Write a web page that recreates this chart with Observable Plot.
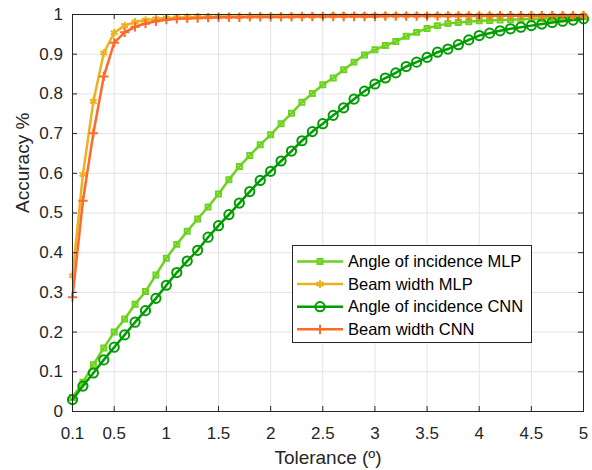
<!DOCTYPE html>
<html><head><meta charset="utf-8">
<script src="https://cdn.jsdelivr.net/npm/d3@7"></script>
<script src="https://cdn.jsdelivr.net/npm/@observablehq/plot@0.6"></script>
<style>body{margin:0;background:#fff}</style>
</head><body><div id="chart"></div>
<script>
const tolerance = [0.1,0.2,0.3,0.4,0.5,0.6,0.7,0.8,0.9,1.0,
  1.1,1.2,1.3,1.4,1.5,1.6,1.7,1.8,1.9,2.0,
  2.1,2.2,2.3,2.4,2.5,2.6,2.7,2.8,2.9,3.0,
  3.1,3.2,3.3,3.4,3.5,3.6,3.7,3.8,3.9,4.0,
  4.1,4.2,4.3,4.4,4.5,4.6,4.7,4.8,4.9,5.0];
const angleMLP = [0.035,0.074,0.118,0.160,0.200,0.233,0.270,0.302,0.344,0.386,
  0.421,0.454,0.485,0.515,0.548,0.584,0.617,0.645,0.672,0.697,
  0.725,0.751,0.779,0.801,0.823,0.840,0.861,0.880,0.898,0.911,
  0.922,0.932,0.945,0.955,0.965,0.972,0.977,0.980,0.982,0.984,
  0.985,0.986,0.987,0.988,0.989,0.990,0.991,0.992,0.993,0.994];
const beamMLP = [0.342,0.597,0.781,0.903,0.954,0.972,0.981,0.986,0.989,0.991,
  0.992,0.993,0.994,0.994,0.995,0.995,0.995,0.995,0.996,0.996,
  0.996,0.996,0.996,0.996,0.996,0.997,0.997,0.997,0.997,0.997,
  0.997,0.997,0.997,0.997,0.997,0.997,0.998,0.998,0.998,0.998,
  0.998,0.998,0.998,0.998,0.998,0.998,0.998,0.998,0.998,0.998];
const angleCNN = [0.030,0.064,0.097,0.130,0.162,0.193,0.225,0.254,0.285,0.318,
  0.350,0.379,0.406,0.439,0.468,0.496,0.525,0.554,0.582,0.605,
  0.631,0.656,0.682,0.705,0.725,0.746,0.765,0.787,0.807,0.825,
  0.840,0.853,0.869,0.880,0.892,0.905,0.913,0.924,0.936,0.947,
  0.953,0.959,0.964,0.968,0.972,0.976,0.980,0.983,0.986,0.989];
const beamCNN = [0.288,0.531,0.701,0.844,0.929,0.955,0.969,0.977,0.983,0.987,
  0.989,0.990,0.991,0.992,0.993,0.993,0.993,0.994,0.994,0.994,
  0.994,0.994,0.995,0.995,0.995,0.995,0.995,0.995,0.995,0.995,
  0.996,0.996,0.996,0.996,0.996,0.996,0.996,0.996,0.996,0.996,
  0.996,0.997,0.997,0.997,0.997,0.997,0.997,0.997,0.997,0.997];

const seriesNames = ["Angle of incidence MLP","Beam width MLP","Angle of incidence CNN","Beam width CNN"];
const seriesValues = [angleMLP, beamMLP, angleCNN, beamCNN];
const seriesColors = ["#6cd21e","#edb120","#009c00","#ff6929"];
const seriesSymbols = ["square","asterisk","circle","plus"];
const seriesR = [2.8, 3.7, 4.6, 3.1];
const xTicks = [0.1,0.5,1,1.5,2,2.5,3,3.5,4,4.5,5];
const yTicks = [0,0.1,0.2,0.3,0.4,0.5,0.6,0.7,0.8,0.9,1];
const xLabel = "Tolerance (º)";
const yLabel = "Accuracy %";

const W = 592, H = 470, mL = 72, mR = 9, mT = 14, mB = 59;
const frameW = W - mL - mR, frameH = H - mT - mB;
const axisColor = "#262626";
const tickLen = 5;
const font = "'Liberation Sans', Arial, Helvetica, sans-serif";

const seriesMarks = seriesNames.flatMap((name, k) => {
  const rows = tolerance.map((t, i) => ({series: name, tolerance: t, accuracy: seriesValues[k][i]}));
  return [
    Plot.line(rows, {x: "tolerance", y: "accuracy", stroke: seriesColors[k], strokeWidth: 2.5}),
    Plot.dot(rows, {x: "tolerance", y: "accuracy", symbol: () => seriesSymbols[k], r: seriesR[k],
      stroke: seriesColors[k], strokeWidth: 2, fill: "none"})
  ];
});

const plot = Plot.plot({
  width: W, height: H,
  marginLeft: mL, marginRight: mR, marginTop: mT, marginBottom: mB,
  style: {fontFamily: font, fontSize: "17px", color: axisColor, background: "white"},
  x: {domain: [0.1, 5]},
  y: {domain: [0, 1]},
  symbol: {type: "identity"},
  marks: [
    Plot.gridX(xTicks, {stroke: "#e3e3e3", strokeOpacity: 1, strokeWidth: 1}),
    Plot.gridY(yTicks, {stroke: "#e3e3e3", strokeOpacity: 1, strokeWidth: 1}),
    ...seriesMarks,
    Plot.tickX(xTicks, {x: d => d, insetTop: frameH - tickLen, stroke: axisColor}),
    Plot.tickX(xTicks, {x: d => d, insetBottom: frameH - tickLen, stroke: axisColor}),
    Plot.tickY(yTicks, {y: d => d, insetRight: frameW - tickLen, stroke: axisColor}),
    Plot.tickY(yTicks, {y: d => d, insetLeft: frameW - tickLen, stroke: axisColor}),
    Plot.frame({stroke: axisColor, strokeWidth: 1}),
    Plot.axisX({ticks: xTicks, tickSize: 0, tickPadding: 15, tickFormat: d => String(d), fontSize: 17, label: null, fill: axisColor}),
    Plot.axisY({ticks: yTicks, tickSize: 0, tickPadding: 9.5, tickFormat: d => String(d), fontSize: 17, label: null, fill: axisColor}),
    Plot.text([xLabel], {frameAnchor: "bottom", dy: 52, text: d => d, fontSize: 19, fill: axisColor}),
    Plot.text([yLabel], {frameAnchor: "left", dx: -50, rotate: -90, text: d => d, fontSize: 19, fill: axisColor})
  ]
});
document.getElementById("chart").appendChild(plot);

// Legend (MATLAB-style box)
const svg = d3.select(plot);
const lg = svg.append("g").attr("font-family", font).attr("font-size", 16.5).attr("text-anchor", "start");
const bx = 292.5, by = 245.5, bw = 239, bh = 97, rowY0 = 261.5, rowStep = 22.6;
lg.append("rect").attr("x", bx).attr("y", by).attr("width", bw).attr("height", bh)
  .attr("fill", "white").attr("stroke", axisColor).attr("stroke-width", 1);
const symMap = {square: d3.symbolSquare, asterisk: d3.symbolAsterisk, circle: d3.symbolCircle, plus: d3.symbolPlus};
seriesNames.forEach((name, k) => {
  const yy = rowY0 + k * rowStep;
  lg.append("line").attr("x1", 297).attr("x2", 343).attr("y1", yy).attr("y2", yy)
    .attr("stroke", seriesColors[k]).attr("stroke-width", 2.5);
  lg.append("path").attr("transform", `translate(320,${yy})`)
    .attr("d", d3.symbol(symMap[seriesSymbols[k]], Math.PI * seriesR[k] * seriesR[k])())
    .attr("fill", "none").attr("stroke", seriesColors[k]).attr("stroke-width", 2);
  lg.append("text").attr("x", 348).attr("y", yy).attr("dy", "0.35em").attr("text-anchor", "start")
    .attr("fill", "#000").text(name);
});
</script>
</body></html>
